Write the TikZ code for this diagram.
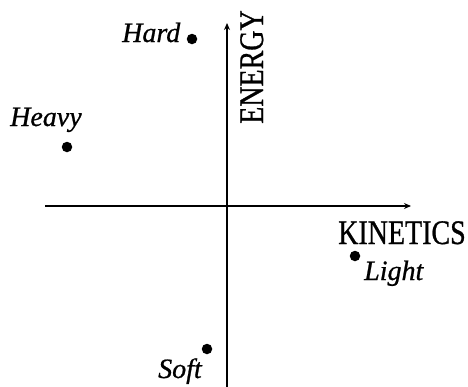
\documentclass[tikz,border=0pt]{standalone}
\usepackage{fontspec}
\usepackage{graphicx}
\setmainfont[FakeBold=0.8]{Liberation Serif}
\usetikzlibrary{arrows.meta}
\newcommand{\tallax}[1]{\scalebox{1}[1.23]{#1}}
\begin{document}
\begin{tikzpicture}[x=1pt,y=-1pt,
  axis/.style={line width=1.8pt,-{Stealth[length=7pt,width=6pt]}},
  dot/.style={circle,fill=black,inner sep=0pt,minimum size=10.5pt},
  lbl/.style={inner sep=0pt,anchor=base west,font=\fontsize{28}{30}\selectfont\itshape},
  axl/.style={inner sep=0pt,anchor=base west,font=\fontsize{28}{30}\selectfont}]
\useasboundingbox (0,0) rectangle (468,386);
\coordinate (xs) at (45,206);
\coordinate (xe) at (411,206);
\coordinate (ys) at (227,390);
\coordinate (ye) at (227,23);
\draw[axis] (xs) -- (xe);
\draw[axis] (ys) -- (ye);
\node[dot] (hard) at (192,39) {};
\node[dot] (heavy) at (67,147) {};
\node[dot] (light) at (355,256) {};
\node[dot] (soft) at (207,349) {};
\node[lbl] (thard) at (122,42) {Hard};
\node[lbl] (theavy) at (10,126) {Heavy};
\node[lbl] (tlight) at (364,280) {Light};
\node[lbl] (tsoft) at (158,378) {Soft};
\node[axl] (tkin) at (338,244) {\tallax{KINETICS}};
\node[axl,rotate=90] (tene) at (263,124) {\tallax{ENERGY}};
\end{tikzpicture}
\end{document}
